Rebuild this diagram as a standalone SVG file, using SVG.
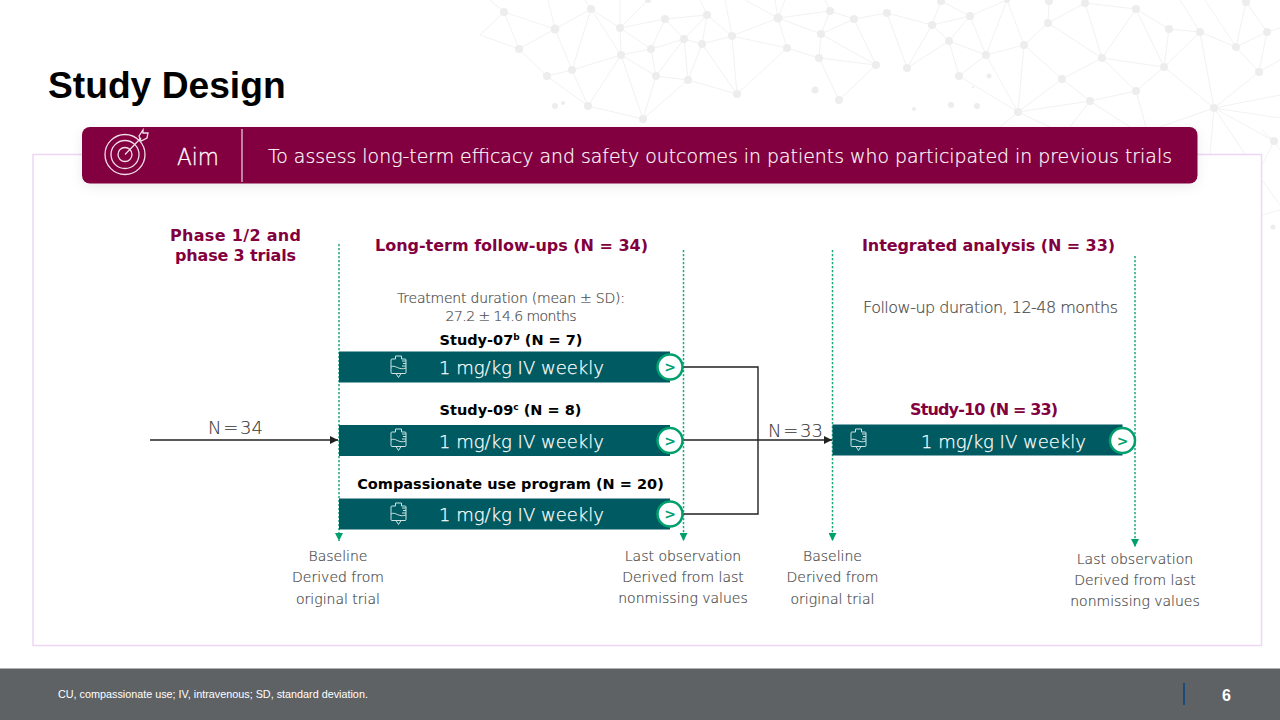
<svg xmlns="http://www.w3.org/2000/svg" width="1280" height="720" viewBox="0 0 1280 720">
<style>
text{font-family:"DejaVu Sans",Verdana,sans-serif}
.s{font-family:"Liberation Sans",Arial,sans-serif}
.h{font-weight:700;font-size:16px;fill:#83003f;text-anchor:middle}
.k{font-weight:700;font-size:14.500px;fill:#000;text-anchor:middle}
.g{font-size:14px;font-weight:200;fill:#4a4a4a;stroke:#4a4a4a;stroke-width:.2;text-anchor:middle}
.n{font-size:18px;font-weight:200;fill:#333;stroke:#333;stroke-width:.1;text-anchor:middle;word-spacing:-4px}
.bar{fill:#005a62}
.w{font-size:18px;font-weight:200;fill:#fff;stroke:#fff;stroke-width:.25;text-anchor:middle}
.dash{stroke:#1fa87e;stroke-width:1.500;stroke-dasharray:2.200 1.800;fill:none}
.conn{stroke:#222;stroke-width:1.400;fill:none}
.net{stroke:#f3f2f3;stroke-width:1;fill:none}
.dot{fill:#ededed}
.ic{fill:none;stroke:#cfe3e3;stroke-width:1}
.bc{fill:#fff;stroke:#00a06e;stroke-width:2.500}
.bt{font-size:14px;font-weight:700;fill:#00a06e;text-anchor:middle}
</style>
<defs>
<marker id="ga" markerWidth="8" markerHeight="9" refX="4" refY="8" orient="0" markerUnits="userSpaceOnUse"><path d="M0 0H8L4 8Z" fill="#00a06e"/></marker>
<marker id="ka" markerWidth="9" markerHeight="8" refX="8" refY="4" orient="auto" markerUnits="userSpaceOnUse"><path d="M0 0L8 4L0 8Z" fill="#222"/></marker>
<g id="iv"><path class="ic" d="M-3 -8V-11H3V-8H6.500Q7.500 -8 7.500 -7V5.500Q7.500 6.500 6.500 6.500H-6.500Q-7.500 6.500 -7.500 5.500V-7Q-7.500 -8 -6.500 -8ZM-2.500 6.500L0 10.500L2.500 6.500"/><path class="ic" d="M-7.500 0C-3 -3 0 4 7.500 1M3.500 -6H7.500M4.500 -3.500H7.500M3.500 -1H7.500"/></g>
<filter id="sh" x="-5%" y="-30%" width="110%" height="170%"><feDropShadow dx="0" dy="3" stdDeviation="6" flood-color="#000" flood-opacity=".08"/></filter>
</defs>
<rect width="1280" height="720" fill="#fff"/>
<g id="background-network">
<path class="net" d="M504 12L519 49M504 12L555 29M504 12L480 35M504 12L490 0M480 35L519 49M519 49L555 29M519 49L547 76M555 29L591 9M555 29L572 70M555 29L548 0M547 76L572 70M547 76L588 106M572 70L588 106M572 70L591 9M572 70L621 55M591 9L620 28M591 9L621 55M591 9L585 0M620 28L621 55M620 28L665 19M620 28L620 0M620 28L648 0M621 55L651 49M621 55L656 76M621 55L588 106M621 55L643 119M620 28L651 49M651 49L684 39M651 49L656 76M665 19L684 39M665 19L651 49M665 19L707 15M707 15L684 39M707 15L702 44M707 15L732 36M707 15L700 0M684 39L656 76M684 39L688 80M684 39L702 44M702 44L732 36M702 44L688 80M702 44L737 94M656 76L688 80M656 76L643 119M688 80L737 94M688 80L643 119M732 36L778 18M732 36L787 48M732 36L737 94M732 36L725 0M778 18L787 48M778 18L821 34M778 18L830 11M778 18L745 0M778 18L775 0M778 18L785 0M787 48L737 94M787 48L819 58M821 34L830 11M821 34L854 19M821 34L819 58M821 34L876 65M830 11L854 19M830 11L825 0M854 19L876 65M854 19L887 13M819 58L876 65M819 58L839 100M876 65L839 100M588 106L643 119"/>
<path class="net" d="M887 13L932 25M887 13L907 68M932 25L941 1M932 25L970 16M932 25L949 41M932 25L907 68M941 1L970 16M970 16L949 41M970 16L986 55M970 16L1007 0M949 41L907 68M949 41L986 55M986 55L1007 0M986 55L959 76M986 55L1024 45M986 55L1018 112M959 76L1018 112M949 41L959 76M1024 45L1007 0M1024 45L1048 23M1024 45L1062 79M1024 45L1018 112M1048 23L1049 1M1048 23L1085 3M1048 23L1102 58M1085 3L1136 9M1085 3L1102 58M1136 9L1102 58M1136 9L1169 29M1136 9L1164 67M1102 58L1164 67M1102 58L1062 79M1102 58L1136 91M1062 79L1090 101M1062 79L1018 112M1090 101L1018 112M1090 101L1136 91M1090 101L1070 127M1090 101L1130 127M1136 91L1164 67M1136 91L1146 127M1164 67L1169 29M1164 67L1200 32M1164 67L1214 108M1169 29L1200 32M1200 32L1214 108M1200 32L1180 0M1200 32L1236 47M1236 47L1259 72M1236 47L1267 32M1236 47L1205 0M1267 32L1259 72M1267 32L1246 2M1267 32L1280 28M1246 2L1236 47M1259 72L1214 108M1259 72L1280 60M1214 108L1280 95M1214 108L1280 118M1214 108L1274 141M1214 108L1210 154M1214 108L1245 154M1214 108L1160 127M1018 112L1050 127M1018 112L1000 127M1262 180L1280 205M1280 210L1262 215M1274 141L1262 130M1274 141L1280 150M1274 141L1262 165"/>
<g class="dot"><circle cx="504" cy="12" r="4"/><circle cx="555" cy="29" r="4.500"/><circle cx="519" cy="49" r="4"/><circle cx="591" cy="9" r="4"/><circle cx="620" cy="28" r="4"/><circle cx="665" cy="19" r="4"/><circle cx="707" cy="15" r="4"/><circle cx="648" cy="0" r="3"/><circle cx="684" cy="39" r="4"/><circle cx="651" cy="49" r="4"/><circle cx="702" cy="44" r="4"/><circle cx="732" cy="36" r="4"/><circle cx="778" cy="18" r="4.500"/><circle cx="830" cy="11" r="4"/><circle cx="854" cy="19" r="4"/><circle cx="821" cy="34" r="4"/><circle cx="787" cy="48" r="4"/><circle cx="819" cy="58" r="4"/><circle cx="876" cy="65" r="4"/><circle cx="621" cy="55" r="4"/><circle cx="572" cy="70" r="4"/><circle cx="547" cy="76" r="4"/><circle cx="656" cy="76" r="4"/><circle cx="688" cy="80" r="4"/><circle cx="737" cy="94" r="4"/><circle cx="588" cy="106" r="4"/><circle cx="643" cy="119" r="4"/><circle cx="839" cy="100" r="4"/><circle cx="815" cy="90" r="3.500"/><circle cx="555" cy="106" r="3"/><circle cx="563" cy="103" r="2"/><circle cx="887" cy="13" r="4"/><circle cx="932" cy="25" r="4"/><circle cx="941" cy="1" r="4"/><circle cx="970" cy="16" r="4"/><circle cx="949" cy="41" r="4"/><circle cx="907" cy="68" r="4"/><circle cx="986" cy="55" r="4"/><circle cx="959" cy="76" r="4"/><circle cx="1024" cy="45" r="4"/><circle cx="1048" cy="23" r="4"/><circle cx="1007" cy="0" r="3"/><circle cx="1049" cy="1" r="4"/><circle cx="1085" cy="3" r="4"/><circle cx="1136" cy="9" r="4"/><circle cx="1102" cy="58" r="4"/><circle cx="1062" cy="79" r="4"/><circle cx="1090" cy="101" r="4"/><circle cx="1136" cy="91" r="4"/><circle cx="1018" cy="112" r="4"/><circle cx="1164" cy="67" r="4"/><circle cx="1169" cy="29" r="4"/><circle cx="1200" cy="32" r="4"/><circle cx="1246" cy="2" r="4"/><circle cx="1267" cy="32" r="4"/><circle cx="1236" cy="47" r="4"/><circle cx="1259" cy="72" r="4"/><circle cx="1214" cy="108" r="4"/><circle cx="1274" cy="141" r="4"/><circle cx="989" cy="76" r="2.500"/><circle cx="951" cy="105" r="3"/><circle cx="977" cy="106" r="3"/><circle cx="914" cy="109" r="2"/><circle cx="973" cy="87" r="1"/><circle cx="1273" cy="227" r="2.500"/></g>
</g>
<rect id="panel" x="33" y="154.500" width="1228.500" height="491" fill="#fff" stroke="#ecd8f2" stroke-width="1.500"/>
<text id="title" class="s" x="48" y="98" font-size="37.200" font-weight="700" fill="#000">Study Design</text>
<g id="aim">
<rect x="82" y="127" width="1115.500" height="56.500" rx="8" fill="#83003f" filter="url(#sh)"/>
<g fill="none" stroke="#f0dfe8" stroke-width="1.300"><circle cx="125" cy="154.500" r="20"/><circle cx="125" cy="154.500" r="14"/><circle cx="125" cy="154.500" r="7"/><path d="M125 154.500L141 138"/><path d="M139 136L141 141L147 138L148 133L143 133L143 130Z"/></g>
<path d="M242 129V182" stroke="#e5c8d6" stroke-width="1.300"/>
<text x="198" y="165" font-size="23" font-weight="200" fill="#fff" stroke="#fff" stroke-width=".3" text-anchor="middle" textLength="42" lengthAdjust="spacingAndGlyphs">Aim</text>
<text x="720" y="163" font-size="20" font-weight="200" fill="#fff" stroke="#fff" stroke-width=".2" text-anchor="middle" textLength="904" lengthAdjust="spacingAndGlyphs">To assess long-term efficacy and safety outcomes in patients who participated in previous trials</text>
</g>
<g id="connectors">
<path class="dash" d="M339 244V541" marker-end="url(#ga)"/>
<path class="dash" d="M683.500 250V541" marker-end="url(#ga)"/>
<path class="dash" d="M832.500 250V541" marker-end="url(#ga)"/>
<path class="dash" d="M1135 256V547" marker-end="url(#ga)"/>
<path class="conn" d="M150 440H338" marker-end="url(#ka)"/>
<path class="conn" d="M683 367H758V514H683"/>
<path class="conn" d="M683 440H832" marker-end="url(#ka)" stroke-width="1.600"/>
</g>
<g id="col-phase">
<text class="h" x="235.500" y="241" textLength="131">Phase 1/2 and</text>
<text class="h" x="235.500" y="261" textLength="121">phase 3 trials</text>
</g>
<g id="col-followup">
<text class="h" x="511.500" y="251" textLength="273">Long-term follow-ups (N = 34)</text>
<text class="g" x="511" y="303" textLength="228">Treatment duration (mean ± SD):</text>
<text class="g" x="511" y="321" textLength="131">27.2 ± 14.6 months</text>
</g>
<g id="col-integrated">
<text class="h" x="988.500" y="251" textLength="253">Integrated analysis (N = 33)</text>
<text class="g" x="990.500" y="313" style="font-size:16px" textLength="255">Follow-up duration, 12-48 months</text>
</g>
<text id="n34" class="n" x="235.500" y="434">N = 34</text>
<text id="n33" class="n" x="795.500" y="437">N = 33</text>
<g id="study-07">
<text class="k" x="511" y="345">Study-07<tspan font-size="9" dy="-5">b</tspan><tspan dy="5"> (N = 7)</tspan></text>
<rect class="bar" x="339" y="351.500" width="331" height="31"/>
<use href="#iv" x="398.500" y="367"/>
<text class="w" x="521.500" y="374">1 mg/kg IV weekly</text>
<circle class="bc" cx="670" cy="367" r="12.500"/><text class="bt" x="670" y="372">&gt;</text>
</g>
<g id="study-09">
<text class="k" x="510.500" y="415">Study-09<tspan font-size="9" dy="-5">c</tspan><tspan dy="5"> (N = 8)</tspan></text>
<rect class="bar" x="339" y="425" width="331" height="31"/>
<use href="#iv" x="398.500" y="440"/>
<text class="w" x="521.500" y="447.500">1 mg/kg IV weekly</text>
<circle class="bc" cx="670" cy="440.500" r="12.500"/><text class="bt" x="670" y="445.500">&gt;</text>
</g>
<g id="compassionate">
<text class="k" x="510.500" y="489">Compassionate use program (N = 20)</text>
<rect class="bar" x="339" y="498.500" width="331" height="31"/>
<use href="#iv" x="398.500" y="514"/>
<text class="w" x="521.500" y="521">1 mg/kg IV weekly</text>
<circle class="bc" cx="670" cy="514" r="12.500"/><text class="bt" x="670" y="519">&gt;</text>
</g>
<g id="study-10">
<text class="h" x="984" y="415" textLength="148">Study-10 (N = 33)</text>
<rect class="bar" x="832.500" y="424.500" width="290" height="31"/>
<use href="#iv" x="858.500" y="440"/>
<text class="w" x="1003.500" y="447.500">1 mg/kg IV weekly</text>
<circle class="bc" cx="1122.500" cy="440.500" r="12.500"/><text class="bt" x="1122.500" y="445.500">&gt;</text>
</g>
<g id="label-baseline-1"><text class="g" x="338" y="561">Baseline</text><text class="g" x="338" y="582">Derived from</text><text class="g" x="338" y="604">original trial</text></g>
<g id="label-last-1"><text class="g" x="683" y="561">Last observation</text><text class="g" x="683" y="582">Derived from last</text><text class="g" x="683" y="603">nonmissing values</text></g>
<g id="label-baseline-2"><text class="g" x="832.500" y="561">Baseline</text><text class="g" x="832.500" y="582">Derived from</text><text class="g" x="832.500" y="604">original trial</text></g>
<g id="label-last-2"><text class="g" x="1135" y="564">Last observation</text><text class="g" x="1135" y="585">Derived from last</text><text class="g" x="1135" y="606">nonmissing values</text></g>
<g id="footer">
<rect x="0" y="668.500" width="1280" height="51.500" fill="#5f6265"/>
<text class="s" x="58" y="698" font-size="10.800" fill="#fff">CU, compassionate use; IV, intravenous; SD, standard deviation.</text>
<path d="M1184 683V705" stroke="#1d4a7c" stroke-width="2"/>
<text class="s" x="1226.500" y="701" font-size="16" font-weight="700" text-anchor="middle" fill="#fff">6</text>
</g>
</svg>
